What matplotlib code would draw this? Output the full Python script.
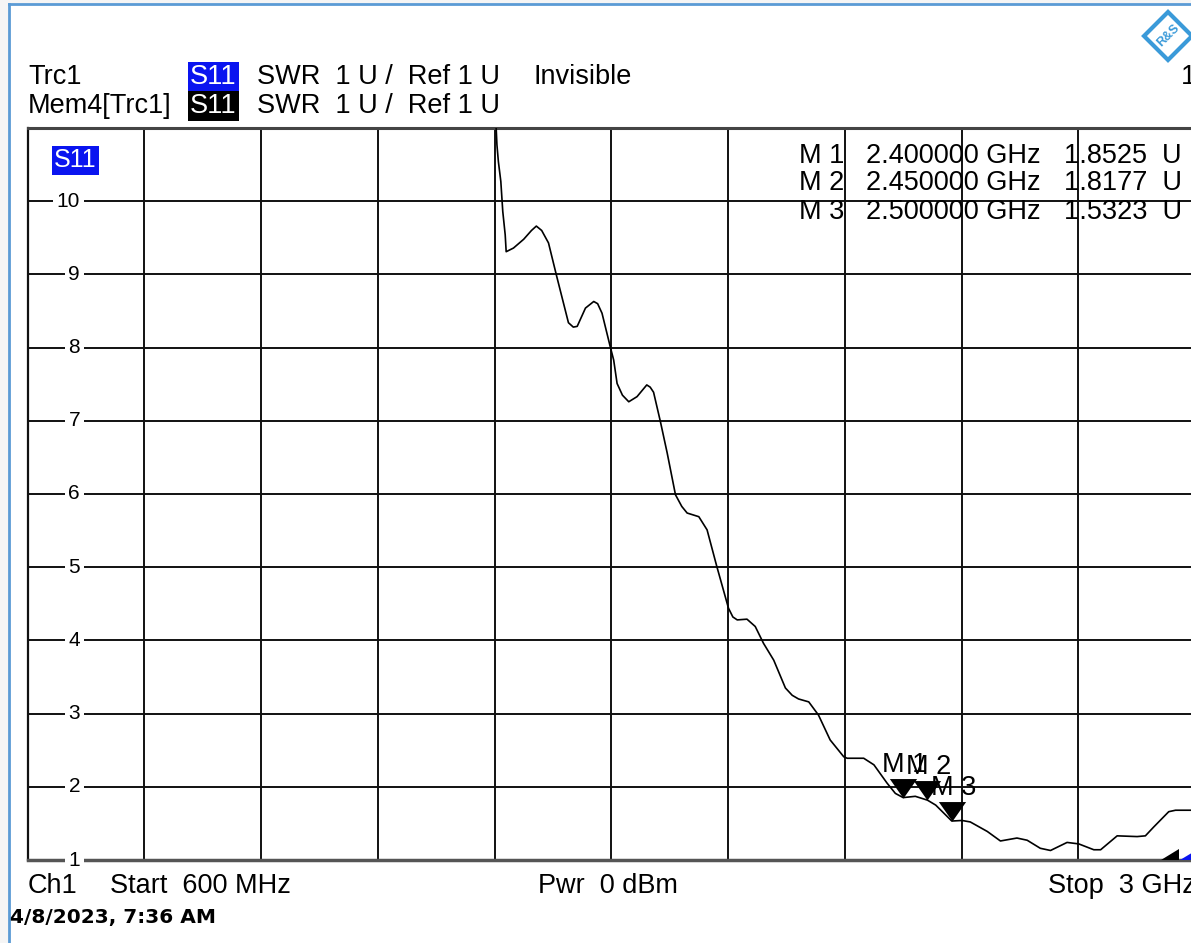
import numpy as np
import matplotlib
matplotlib.use("Agg")
import matplotlib.pyplot as plt
from matplotlib.path import Path
from matplotlib.patches import Polygon, Rectangle

plt.rcParams['font.family'] = ['Liberation Sans', 'DejaVu Sans']

# ---- data (S11 SWR trace) ----
freq_ghz = [1.560, 1.565, 1.568, 1.573, 1.577, 1.582, 1.584, 1.599, 1.620, 1.636,
            1.646, 1.657, 1.671, 1.688, 1.712, 1.722, 1.730, 1.747, 1.764, 1.772,
            1.781, 1.798, 1.805, 1.812, 1.823, 1.836, 1.853, 1.873, 1.880, 1.887,
            1.901, 1.915, 1.932, 1.945, 1.956, 1.980, 1.997, 2.017, 2.041, 2.050,
            2.059, 2.079, 2.096, 2.113, 2.134, 2.158, 2.172, 2.185, 2.206, 2.226,
            2.250, 2.278, 2.285, 2.319, 2.340, 2.367, 2.384, 2.400, 2.425, 2.450,
            2.467, 2.500, 2.521, 2.538, 2.573, 2.600, 2.634, 2.655, 2.682, 2.703,
            2.737, 2.761, 2.792, 2.806, 2.840, 2.881, 2.898, 2.915, 2.946, 2.960,
            2.993, 3.000]
swr = [11.5, 10.77, 10.54, 10.27, 9.86, 9.54, 9.31, 9.36, 9.48, 9.60,
       9.66, 9.60, 9.43, 8.97, 8.34, 8.28, 8.29, 8.54, 8.63, 8.60,
       8.47, 8.01, 7.83, 7.51, 7.35, 7.26, 7.33, 7.49, 7.46, 7.39,
       6.99, 6.56, 5.99, 5.83, 5.74, 5.69, 5.51, 5.01, 4.44, 4.32,
       4.28, 4.29, 4.19, 3.96, 3.73, 3.35, 3.25, 3.20, 3.16, 2.98,
       2.64, 2.41, 2.39, 2.39, 2.30, 2.05, 1.91, 1.8525, 1.87, 1.8177,
       1.75, 1.5323, 1.54, 1.52, 1.39, 1.26, 1.30, 1.27, 1.16, 1.13,
       1.24, 1.22, 1.14, 1.14, 1.33, 1.32, 1.33, 1.45, 1.66, 1.68,
       1.68, 1.68]

marker_names = ["M 1", "M 2", "M 3"]
marker_freq = [2.40, 2.45, 2.50]
marker_swr = [1.8525, 1.8177, 1.5323]

y_ticks = [1, 2, 3, 4, 5, 6, 7, 8, 9, 10]
f_start, f_stop, f_div = 0.6, 3.0, 0.24
y_min, y_max = 1, 11

W, H = 1191, 943
fig = plt.figure(figsize=(W / 100, H / 100), dpi=100)
fig.patch.set_facecolor('white')

def fx(px):
    return px / W

def fy(py):
    return 1 - py / H

# outer background strip + blue border
fig.add_artist(Rectangle((0, 0), fx(9), 1, transform=fig.transFigure, facecolor='#f5f5f5', edgecolor='none'))
fig.add_artist(Rectangle((0, fy(4)), 1, 1 - fy(4), transform=fig.transFigure, facecolor='#f5f5f5', edgecolor='none'))
fig.add_artist(plt.Line2D([fx(9), fx(9)], [0, fy(4)], transform=fig.transFigure, color='#5b9bd5', lw=2))
fig.add_artist(plt.Line2D([fx(9), 1], [fy(4), fy(4)], transform=fig.transFigure, color='#5b9bd5', lw=2))

# R&S logo
cx, cy, r = 1168, 36, 24
fig.add_artist(Polygon([(fx(cx - r), fy(cy)), (fx(cx), fy(cy - r)), (fx(cx + r), fy(cy)), (fx(cx), fy(cy + r))],
                       closed=True, transform=fig.transFigure, facecolor='white', edgecolor='#3a9ad9', lw=3))
fig.text(fx(cx), fy(cy), "R&S", color='#3a9ad9', fontsize=9, fontweight='bold', ha='center', va='center', rotation=45)

# axes
x0, x1, yt, yb = 27.5, 1195.0, 128.0, 860.0
ax = fig.add_axes([fx(x0), fy(yb), fx(x1) - fx(x0), fy(yt) - fy(yb)])
ax.set_xlim(f_start, f_stop)
ax.set_ylim(y_min, y_max)
xt = np.arange(f_start, f_stop + 1e-9, f_div)
ax.set_xticks(xt)
ax.set_yticks(list(range(y_min, y_max + 1)))
ax.tick_params(length=0, labelbottom=False, labelleft=False)
ax.grid(True, color='#111111', lw=1.4)
ax.set_axisbelow(True)
ax.spines['left'].set_color('#111111')
ax.spines['left'].set_linewidth(1.6)
ax.spines['top'].set_color('#444444')
ax.spines['top'].set_linewidth(2.2)
ax.spines['bottom'].set_color('#555555')
ax.spines['bottom'].set_linewidth(2.5)
ax.spines['right'].set_visible(False)

# trace
ax.plot(freq_ghz, swr, color='black', lw=1.2, solid_joinstyle='round', zorder=3)

# y labels (with white gaps in grid lines)
for v in y_ticks:
    ax.annotate(str(v), xy=(0, v), xycoords=('axes fraction', 'data'), xytext=(52.5 * 0.72, 0),
                textcoords='offset points', ha='right', va='center', fontsize=15,
                bbox=dict(boxstyle='square,pad=0.18', facecolor='white', edgecolor='none'), zorder=4)

# markers
tri = Path([(-0.7, 1.0), (0.7, 1.0), (0.0, 0.0), (-0.7, 1.0)],
           [Path.MOVETO, Path.LINETO, Path.LINETO, Path.CLOSEPOLY])
ax.plot(marker_freq, marker_swr, linestyle='none', marker=tri, markersize=28,
        color='black', markeredgewidth=0, zorder=5)
fs = 19.5
for name, f, v in zip(marker_names, marker_freq, marker_swr):
    ax.annotate(name, xy=(f, v), xytext=(-21 * 0.72, 33 * 0.72), textcoords='offset points',
                ha='left', va='center', fontsize=fs, zorder=6)

# marker table
rows_y = [156, 183, 212]
for name, f, v, py in zip(marker_names, marker_freq, marker_swr, rows_y):
    fig.text(fx(844), fy(py), name, ha='right', va='center', fontsize=fs)
    fig.text(fx(866), fy(py), f"{f:.6f} GHz", ha='left', va='center', fontsize=fs)
    fig.text(fx(1064), fy(py), f"{v:.4f}  U", ha='left', va='center', fontsize=fs)

# S11 label inside diagram
fig.text(fx(54), fy(160), "S11", ha='left', va='center', fontsize=18, color='white',
         bbox=dict(boxstyle='square,pad=0.1', facecolor='#0a14f0', edgecolor='none'))

# header lines
fig.text(fx(28), fy(77), "Trc1", ha='left', va='center', fontsize=fs)
fig.text(fx(28), fy(106), "Mem4[Trc1]", ha='left', va='center', fontsize=fs)
fig.text(fx(190), fy(77), "S11", ha='left', va='center', fontsize=fs, color='white',
         bbox=dict(boxstyle='square,pad=0.08', facecolor='#0a14f0', edgecolor='none'))
fig.text(fx(190), fy(106), "S11", ha='left', va='center', fontsize=fs, color='white',
         bbox=dict(boxstyle='square,pad=0.08', facecolor='black', edgecolor='none'))
fig.text(fx(257), fy(77), "SWR  1 U /  Ref 1 U", ha='left', va='center', fontsize=fs)
fig.text(fx(257), fy(106), "SWR  1 U /  Ref 1 U", ha='left', va='center', fontsize=fs)
fig.text(fx(533), fy(77), "Invisible", ha='left', va='center', fontsize=fs)
fig.text(fx(1181), fy(77), "1", ha='left', va='center', fontsize=fs)

# footer
fig.text(fx(28), fy(886), "Ch1", ha='left', va='center', fontsize=fs)
fig.text(fx(110), fy(886), "Start  600 MHz", ha='left', va='center', fontsize=fs)
fig.text(fx(538), fy(886), "Pwr  0 dBm", ha='left', va='center', fontsize=fs)
fig.text(fx(1048), fy(886), "Stop  3 GHz", ha='left', va='center', fontsize=fs)
fig.text(fx(10), fy(918), "4/8/2023, 7:36 AM", ha='left', va='center', fontsize=14.5,
         fontweight='bold', family=['DejaVu Sans'])

# out-of-range indicators at bottom right
ax.add_patch(Polygon([(0.971, 0.0), (0.9867, 0.0), (0.9867, 0.015)], closed=True,
                     transform=ax.transAxes, facecolor='black', edgecolor='none', zorder=5, clip_on=False))
ax.add_patch(Polygon([(0.9875, 0.0), (1.0, 0.0), (1.0, 0.012)], closed=True,
                     transform=ax.transAxes, facecolor='#0a14f0', edgecolor='none', zorder=5, clip_on=False))

fig.savefig("out.png", dpi=100)
